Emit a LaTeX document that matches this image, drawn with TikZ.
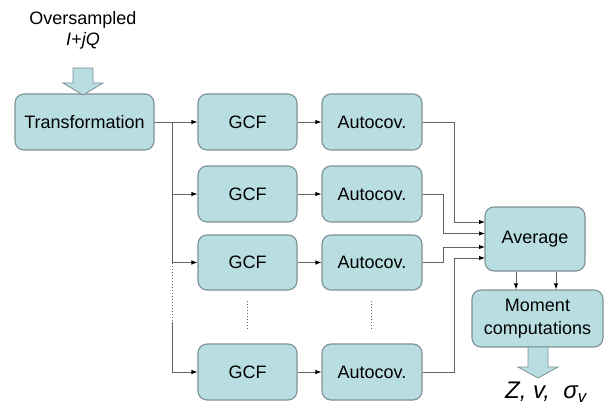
\documentclass[tikz,border=0pt]{standalone}
\usepackage{fontspec}
\setmainfont{Liberation Sans}
\usetikzlibrary{arrows.meta,calc}
\definecolor{boxfill}{RGB}{185,222,226}
\definecolor{boxline}{RGB}{125,145,148}
\definecolor{wire}{RGB}{100,100,100}
\tikzset{
  blk/.style={draw=boxline, fill=boxfill, line width=1.1pt, rounded corners=9pt,
    inner sep=0pt, align=center, font=\fontsize{18}{21}\selectfont},
  arr/.style={draw=wire, line width=0.9pt, -{Latex[length=6pt,width=4.5pt,color=black]}},
  wireline/.style={draw=wire, line width=0.9pt},
  dotline/.style={draw=wire, line width=0.9pt, dash pattern=on 1.5pt off 1.5pt},
  bigarrow/.style={draw=boxline, fill=boxfill, line width=0.8pt},
  lbl/.style={font=\fontsize{18}{21}\selectfont, inner sep=0pt}
}
\begin{document}
\begin{tikzpicture}[x=1pt,y=-1pt]
\useasboundingbox (0,0) rectangle (605,409);
% boxes
\node[blk, minimum width=139pt, minimum height=56pt] (T) at (84.5,122) {Transformation};
\foreach \n/\y/\h in {1/122/56, 2/194/56, 3/262.5/55, 4/372/56}{
  \node[blk, minimum width=99pt, minimum height=\h pt] (G\n) at (247.5,\y) {GCF};
  \node[blk, minimum width=100pt, minimum height=\h pt] (A\n) at (372,\y) {Autocov.};
}
\node[blk, minimum width=100pt, minimum height=64pt] (Av) at (535,239) {Average};
\node[blk, minimum width=131pt, minimum height=57pt, text width=125pt] (Mo) at (537.5,318.5) {Moment\\[2pt]computations};
% top text and big arrow
\node[lbl] (ov) at (83,20) {Oversampled};
\node[lbl] (iq) at (83,41) {\textit{I+jQ}};
\draw[bigarrow] (73,68) -- (93,68) -- (93,83) -- (103,83) -- (83,95) -- (63,83) -- (73,83) -- cycle;
% output big arrow and text
\draw[bigarrow] (528,347) -- (548,347) -- (548,367) -- (558,367) -- (538,378) -- (518,367) -- (528,367) -- cycle;
\node[inner sep=0pt, font=\fontsize{24}{26}\selectfont] (out) at (546,392) {\textit{Z,~v,~~σ\textsubscript{v}}};
% branch
\coordinate (br) at (172,122);
\coordinate (bd1) at (172,262.5);
\coordinate (bd2) at (172,322);
\draw[arr] (T.east) -- (G1.west);
\draw[wireline] (br) -- (bd1);
\draw[dotline] (bd1) -- (bd2);
\draw[wireline] (bd2) -- (br |- G4.west);
\foreach \n in {2,3,4}{
  \draw[arr] (br |- G\n.west) -- (G\n.west);
}
\foreach \n in {1,2,3,4}{
  \draw[arr] (G\n.east) -- (A\n.east -| A\n.west);
}
% vertical dots between rows 3 and 4
\draw[dotline] ($(G3.south)+(0,10)$) -- ($(G4.north)+(0,-13)$);
\draw[dotline] ($(A3.south)+(-1,10)$) -- ($(A4.north)+(-1,-13)$);
% to average
\coordinate (in1) at (485,222);
\coordinate (in2) at (485,233.5);
\coordinate (in3) at (485,247);
\coordinate (in4) at (485,258);
\coordinate (vA) at (454,0);
\coordinate (vB) at (443,0);
\draw[arr] (A1.east) -| (vA |- in1) -- (in1);
\draw[arr] (A2.east) -| (vB |- in2) -- (in2);
\draw[arr] (A3.east) -| (vB |- in3) -- (in3);
\draw[arr] (A4.east) -| (vA |- in4) -- (in4);
% average to moment
\coordinate (m1) at (516,0);
\coordinate (m2) at (556,0);
\draw[arr] (Av.south -| m1) -- (Mo.north -| m1);
\draw[arr] (Av.south -| m2) -- (Mo.north -| m2);
\end{tikzpicture}
\end{document}
